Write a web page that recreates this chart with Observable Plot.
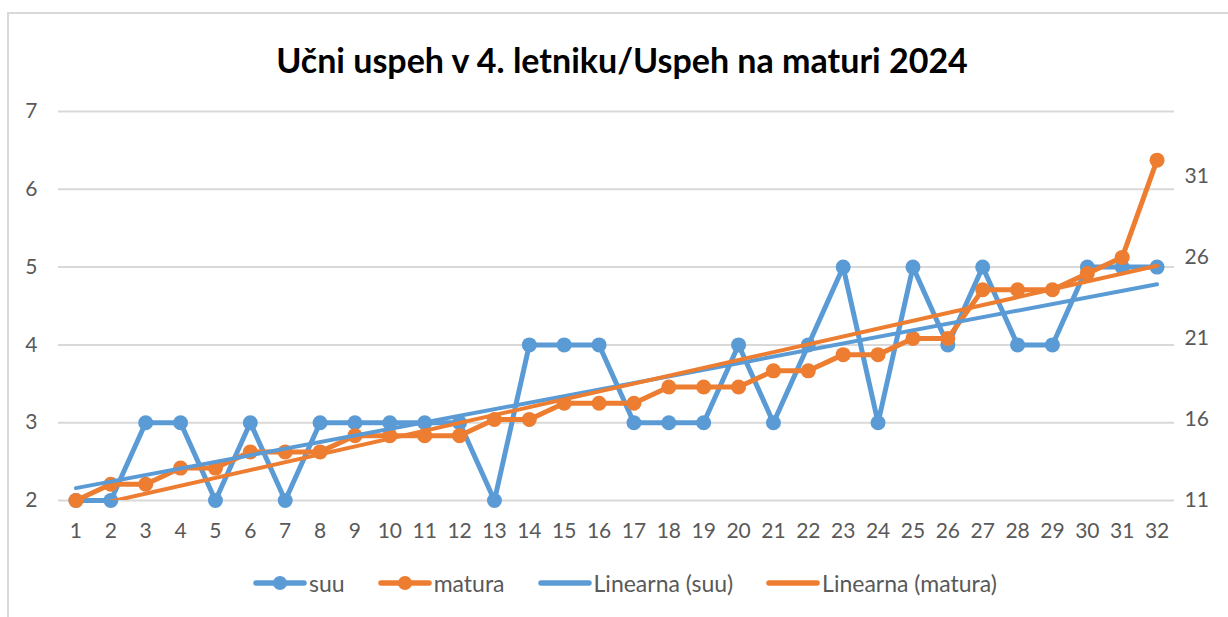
<!DOCTYPE html>
<html>
<head>
<meta charset="utf-8">
<script src="https://cdn.jsdelivr.net/npm/d3@7"></script>
<script src="https://cdn.jsdelivr.net/npm/@observablehq/plot@0.6"></script>
<style>
  html, body { margin: 0; padding: 0; background: #fff; }
  body { width: 1228px; height: 617px; overflow: hidden; position: relative; font-family: Lato, "Open Sans", sans-serif; }
  #frame { position: absolute; left: 7px; top: 12px; right: -2px; bottom: -2px; border-left: 2px solid #d9d9d9; border-top: 2px solid #d9d9d9; pointer-events: none; }
  #title { height: 90px; box-sizing: border-box; padding-top: 40px; padding-left: 16px; text-align: center; font-size: 34px; font-weight: bold; line-height: 40px; color: #000; }
  #chart { height: 460px; }
  #chart svg { display: block; }
  #legend { display: flex; justify-content: center; align-items: center; gap: 33px; padding-top: 19px; padding-left: 22px; height: 28px; font-size: 23px; color: #595959; }
  .item { display: flex; align-items: center; gap: 2px; }
</style>
</head>
<body>
<div id="frame"></div>
<div id="title">Učni uspeh v 4. letniku/Uspeh na maturi 2024</div>
<div id="chart"></div>
<div id="legend"></div>
<script>
const categories = [1,2,3,4,5,6,7,8,9,10,11,12,13,14,15,16,17,18,19,20,21,22,23,24,25,26,27,28,29,30,31,32];
const suu = [2,2,3,3,2,3,2,3,3,3,3,3,2,4,4,4,3,3,3,4,3,4,5,3,5,4,5,4,4,5,5,5];
const matura = [11,12,12,13,13,14,14,14,15,15,15,15,16,16,17,17,17,18,18,18,19,19,20,20,21,21,24,24,24,25,26,32];
const leftTicks = [2,3,4,5,6,7];
const rightTicks = [11,16,21,26,31];
const leftDomain = [2, 7];
const rightDomain = [11, 35];
const seriesNames = ["suu", "matura", "Linearna (suu)", "Linearna (matura)"];

const BLUE = "#5B9BD5", ORANGE = "#ED7D31", GRID = "#d9d9d9", TEXT = "#595959";

// map right-axis value onto left-axis scale
const toLeft = v => leftDomain[0] + (v - rightDomain[0]) * (leftDomain[1] - leftDomain[0]) / (rightDomain[1] - rightDomain[0]);
const fromLeft = v => rightDomain[0] + (v - leftDomain[0]) * (rightDomain[1] - rightDomain[0]) / (leftDomain[1] - leftDomain[0]);

const data = categories.map((c, i) => ({x: c, suu: suu[i], matura: matura[i], maturaL: toLeft(matura[i])}));

const chart = Plot.plot({
  width: 1228,
  height: 460,
  marginLeft: 58,
  marginRight: 54,
  marginTop: 21,
  marginBottom: 50,
  style: {fontFamily: "Lato, 'Open Sans', sans-serif", fontSize: "21px", color: TEXT, background: "white"},
  x: {domain: [0.5, 32.5], ticks: categories, tickFormat: d => String(d)},
  y: {domain: leftDomain},
  marks: [
    Plot.gridY(leftTicks, {stroke: GRID, strokeOpacity: 1, strokeWidth: 2}),
    Plot.axisX({ticks: categories, tickSize: 0, tickPadding: 23, label: null, tickFormat: d => String(d), fill: TEXT}),
    Plot.axisY({ticks: leftTicks, anchor: "left", tickSize: 0, tickPadding: 21, label: null, fill: TEXT, tickFormat: d => String(d)}),
    Plot.axisY({ticks: rightTicks.map(toLeft), anchor: "right", tickSize: 0, tickPadding: 10, label: null, fill: TEXT, tickFormat: d => String(Math.round(fromLeft(d)))}),
    Plot.line(data, {x: "x", y: "suu", stroke: BLUE, strokeWidth: 5}),
    Plot.dot(data, {x: "x", y: "suu", fill: BLUE, r: 7.5}),
    Plot.line(data, {x: "x", y: "maturaL", stroke: ORANGE, strokeWidth: 5}),
    Plot.dot(data, {x: "x", y: "maturaL", fill: ORANGE, r: 7.5}),
    Plot.linearRegressionY(data, {x: "x", y: "suu", stroke: BLUE, strokeWidth: 4, ci: 0, clip: true}),
    Plot.linearRegressionY(data, {x: "x", y: "maturaL", stroke: ORANGE, strokeWidth: 4, ci: 0, clip: true})
  ]
});
document.getElementById("chart").appendChild(chart);

const legend = document.getElementById("legend");
const legendItems = [
  {name: seriesNames[0], color: BLUE, marker: true},
  {name: seriesNames[1], color: ORANGE, marker: true},
  {name: seriesNames[2], color: BLUE, marker: false},
  {name: seriesNames[3], color: ORANGE, marker: false}
];
for (const it of legendItems) {
  const div = document.createElement("div");
  div.className = "item";
  const sw = `<svg width="54" height="18"><line x1="3" x2="51" y1="9" y2="9" stroke="${it.color}" stroke-width="5.5" stroke-linecap="round"/>${it.marker ? `<circle cx="27" cy="9" r="7" fill="${it.color}"/>` : ""}</svg>`;
  div.innerHTML = sw + `<span>${it.name}</span>`;
  legend.appendChild(div);
}
</script>
</body>
</html>
